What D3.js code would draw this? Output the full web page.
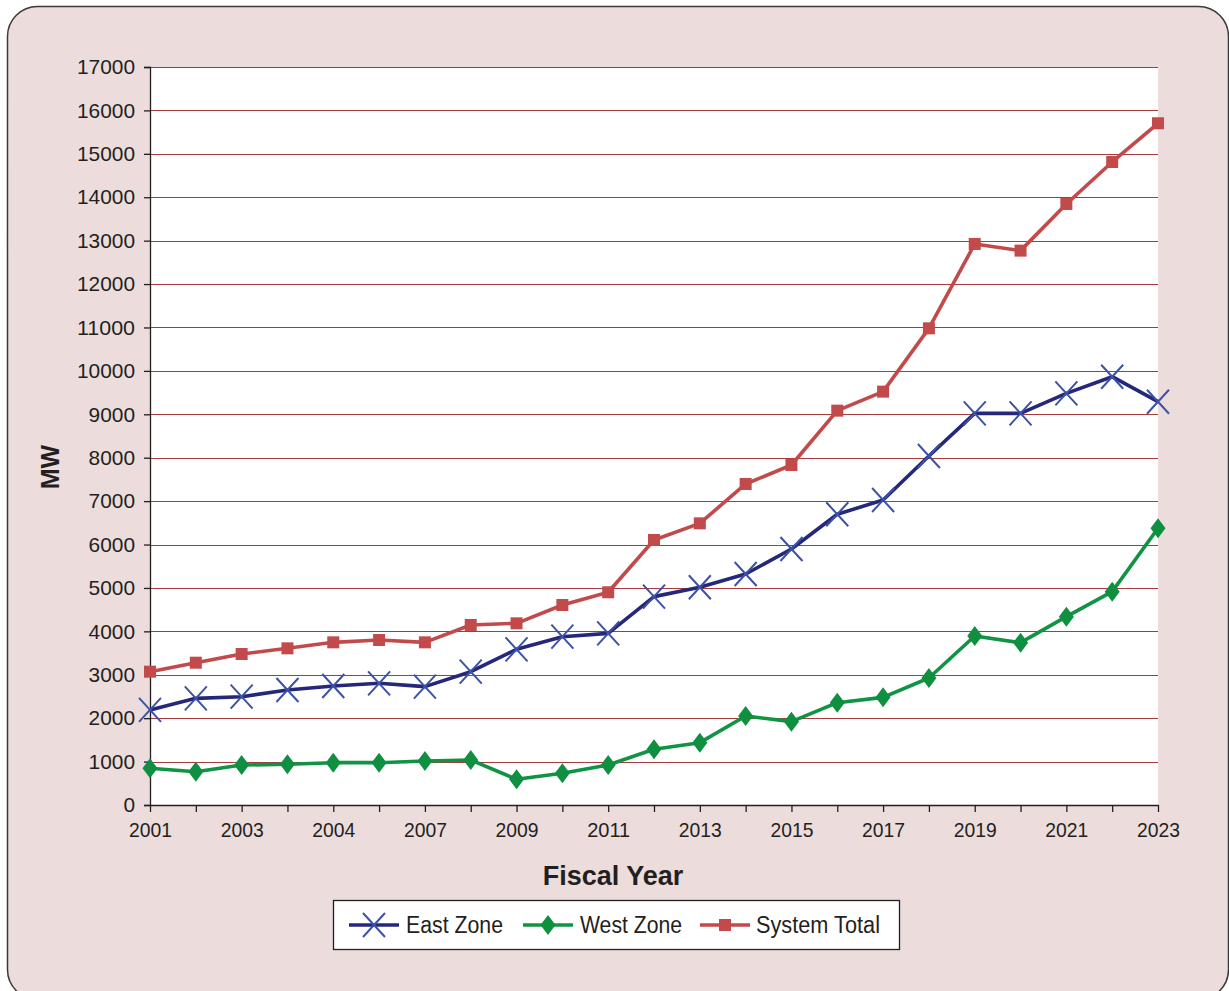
<!DOCTYPE html>
<html>
<head>
<meta charset="utf-8">
<script src="https://cdn.jsdelivr.net/npm/d3@7"></script>
<style>
  body { margin: 0; background: #ffffff; }
  svg { display: block; font-family: "Liberation Sans", Arial, sans-serif; }
</style>
</head>
<body>
<svg id="chart"></svg>
<script>
// category labels (only every other one is printed on the axis)
var years = ["2001","2002","2003","2003","2004","2005","2007","2008","2009","2010","2011","2012",
             "2013","2014","2015","2016","2017","2018","2019","2020","2021","2022","2023"];

var eastZone = [2190, 2457, 2495, 2649, 2741, 2803, 2726, 3071, 3586, 3877, 3954, 4800,
                5015, 5321, 5897, 6697, 7026, 8040, 9022, 9022, 9482, 9866, 9290];
var westZone = [845, 767, 921, 937, 975, 975, 1014, 1037, 592, 730, 921, 1283,
                1436, 2050, 1920, 2357, 2480, 2926, 3893, 3739, 4338, 4914, 6374];
var systemTotal = [3071, 3278, 3478, 3609, 3747, 3801, 3747, 4147, 4185, 4607, 4900, 6105,
                   6488, 7395, 7832, 9084, 9522, 10980, 12924, 12770, 13845, 14812, 15704];

var yTicks = d3.range(0, 17001, 1000);

var W = 1229, H = 991;
var svg = d3.select("#chart").attr("width", W).attr("height", H);

// background panel
svg.append("rect")
    .attr("x", 7.5).attr("y", 6.5)
    .attr("width", 1221).attr("height", 993)
    .attr("rx", 30).attr("ry", 30)
    .attr("fill", "#ecdcdc")
    .attr("stroke", "#3a3a3a")
    .attr("stroke-width", 1.5);

var plotLeft = 150, plotRight = 1158, plotTop = 67, plotBottom = 805;

var x = d3.scalePoint().domain(d3.range(years.length)).range([plotLeft, plotRight]);
var y = d3.scaleLinear().domain([0, 17000]).range([plotBottom, plotTop]);

// plot area
svg.append("rect")
    .attr("x", plotLeft).attr("y", plotTop)
    .attr("width", plotRight - plotLeft).attr("height", plotBottom - plotTop)
    .attr("fill", "#ffffff");

// gridlines
svg.append("g")
    .selectAll("line")
    .data(yTicks.filter(d => d > 0))
    .enter()
    .append("line")
    .attr("x1", plotLeft).attr("x2", plotRight)
    .attr("y1", d => Math.round(y(d)) + 0.5)
    .attr("y2", d => Math.round(y(d)) + 0.5)
    .attr("stroke", "#a8393d")
    .attr("stroke-width", 1.2);

// y axis
var yAxis = svg.append("g")
    .attr("transform", "translate(" + plotLeft + ",0)")
    .call(d3.axisLeft(y).tickValues(yTicks).tickSize(6).tickPadding(9).tickFormat(d3.format("d")));
yAxis.selectAll("text").attr("font-size", 21).attr("fill", "#231f20")
    .attr("font-family", "Liberation Sans, Arial, sans-serif")
    .attr("textLength", d => String(d).length * 11.6).attr("lengthAdjust", "spacingAndGlyphs");
yAxis.selectAll("line, path").attr("stroke", "#231f20").attr("stroke-width", 1.3);

// x axis
var xAxis = svg.append("g")
    .attr("transform", "translate(0," + plotBottom + ")")
    .call(d3.axisBottom(x).tickSize(7).tickPadding(10).tickSizeOuter(0)
        .tickFormat(i => i % 2 == 0 ? years[i] : ""));
xAxis.selectAll("text").attr("font-size", 21).attr("fill", "#231f20")
    .attr("font-family", "Liberation Sans, Arial, sans-serif")
    .attr("textLength", 43).attr("lengthAdjust", "spacingAndGlyphs");
xAxis.selectAll("line, path").attr("stroke", "#231f20").attr("stroke-width", 1.3);

// axis titles
svg.append("text")
    .attr("x", 613).attr("y", 885)
    .attr("text-anchor", "middle")
    .attr("font-size", 27).attr("font-weight", "bold")
    .attr("fill", "#231f20")
    .text("Fiscal Year");

svg.append("text")
    .attr("transform", "translate(59,467) rotate(-90)")
    .attr("text-anchor", "middle")
    .attr("font-size", 25).attr("font-weight", "bold")
    .attr("fill", "#231f20")
    .text("MW");

var line = d3.line().x((d, i) => x(i)).y(d => y(d));

var series = [
    { name: "East Zone", values: eastZone, line: "#25287a", marker: "#3c52a6", shape: "x", width: 97 },
    { name: "West Zone", values: westZone, line: "#109343", marker: "#0f8f40", shape: "diamond", width: 102 },
    { name: "System Total", values: systemTotal, line: "#c24a4a", marker: "#c24a4a", shape: "square", width: 124 }
];

function drawMarker(g, s, cx, cy) {
    if (s.shape == "x") {
        g.append("path")
            .attr("d", "M" + (cx - 11) + "," + (cy - 12) + "L" + (cx + 11) + "," + (cy + 12) +
                       "M" + (cx + 11) + "," + (cy - 12) + "L" + (cx - 11) + "," + (cy + 12))
            .attr("stroke", s.marker).attr("stroke-width", 2).attr("fill", "none");
    } else if (s.shape == "diamond") {
        g.append("path")
            .attr("d", "M" + cx + "," + (cy - 10) + "L" + (cx + 7.5) + "," + cy +
                       "L" + cx + "," + (cy + 10) + "L" + (cx - 7.5) + "," + cy + "Z")
            .attr("fill", s.marker);
    } else {
        g.append("rect")
            .attr("x", cx - 6).attr("y", cy - 6)
            .attr("width", 12).attr("height", 12)
            .attr("fill", s.marker);
    }
}

series.forEach(function(s) {
    var g = svg.append("g");
    g.append("path")
        .datum(s.values)
        .attr("d", line)
        .attr("fill", "none")
        .attr("stroke", s.line)
        .attr("stroke-width", 3.6)
        .attr("stroke-linejoin", "round");
    s.values.forEach(function(v, i) {
        drawMarker(g, s, x(i), y(v));
    });
});

// legend
var legend = svg.append("g");
legend.append("rect")
    .attr("x", 333.5).attr("y", 900.5)
    .attr("width", 566).attr("height", 49)
    .attr("fill", "#ffffff")
    .attr("stroke", "#231f20").attr("stroke-width", 1.3);

var legendPos = [{ x1: 349, text: 406 }, { x1: 523, text: 580 }, { x1: 700, text: 756 }];

series.forEach(function(s, i) {
    var p = legendPos[i];
    var g = legend.append("g");
    g.append("line")
        .attr("x1", p.x1).attr("x2", p.x1 + 50)
        .attr("y1", 925).attr("y2", 925)
        .attr("stroke", s.line).attr("stroke-width", 3.6);
    drawMarker(g, s, p.x1 + 25, 925);
    g.append("text")
        .attr("x", p.text).attr("y", 933)
        .attr("font-size", 23)
        .attr("fill", "#231f20")
        .attr("textLength", s.width).attr("lengthAdjust", "spacingAndGlyphs")
        .text(s.name);
});
</script>
</body>
</html>
